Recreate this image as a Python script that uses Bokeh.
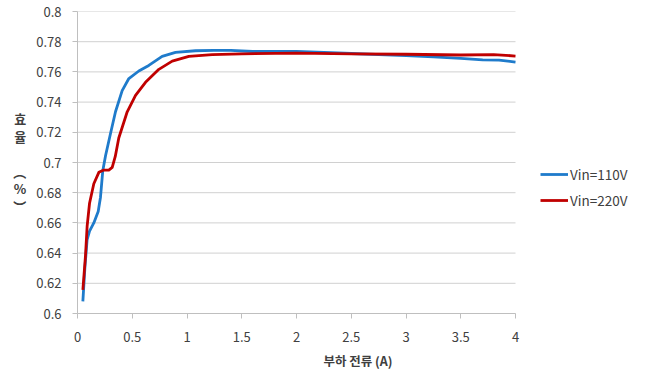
from bokeh.plotting import figure
from bokeh.models import Legend, LegendItem, FixedTicker
from bokeh.embed import file_html
from bokeh.resources import INLINE

# Data
x_110 = [0.049, 0.067, 0.088, 0.11, 0.149, 0.189, 0.21, 0.231, 0.256, 0.301, 0.347, 0.408, 0.469,
         0.56, 0.651, 0.773, 0.895, 1.078, 1.245, 1.4, 1.6, 2.0, 2.5, 3.0, 3.25, 3.5, 3.7, 3.85, 4.0]
y_110 = [0.608, 0.6297, 0.649, 0.6545, 0.66, 0.6675, 0.677, 0.6946, 0.7045, 0.719, 0.7336, 0.7476, 0.7556,
         0.7606, 0.7643, 0.7703, 0.7729, 0.774, 0.7742, 0.7743, 0.7735, 0.7735, 0.7722, 0.7708, 0.770,
         0.769, 0.768, 0.7678, 0.7665]

x_220 = [0.049, 0.073, 0.088, 0.11, 0.149, 0.195, 0.24, 0.286, 0.317, 0.345, 0.377, 0.454, 0.53,
         0.621, 0.743, 0.865, 1.017, 1.23, 1.5, 2.0, 2.5, 3.0, 3.5, 3.8, 4.0]
y_220 = [0.6156, 0.6383, 0.6578, 0.673, 0.6859, 0.6935, 0.695, 0.695, 0.6968, 0.704, 0.7162, 0.7336, 0.7444,
         0.7531, 0.7617, 0.7671, 0.7703, 0.7714, 0.772, 0.7725, 0.772, 0.7717, 0.7712, 0.7715, 0.7705]

series_names = ["Vin=110V", "Vin=220V"]
x_ticks = [0, 0.5, 1, 1.5, 2, 2.5, 3, 3.5, 4]
x_tick_labels = ["0", "0.5", "1", "1.5", "2", "2.5", "3", "3.5", "4"]
y_ticks = [0.6, 0.62, 0.64, 0.66, 0.68, 0.7, 0.72, 0.74, 0.76, 0.78, 0.8]
y_tick_labels = ["0.6", "0.62", "0.64", "0.66", "0.68", "0.7", "0.72", "0.74", "0.76", "0.78", "0.8"]
x_title = "부하 전류 (A)"
y_title = "효\n율\n\n︵\n%\n︶"

FONT = "Noto Sans CJK KR"
TXT = "#404040"

X_MIN, X_MAX = 0, 4
# frame extends past x=4 so that the legend (drawn inside the frame) is not clipped
X_VIEW_MAX = X_MAX * (638 - 77) / (515 - 77)

p = figure(width=638, height=372, output_backend="svg", toolbar_location=None,
           x_range=(X_MIN, X_VIEW_MAX), y_range=(0.6, 0.8),
           min_border_left=77, min_border_right=0, min_border_top=11, min_border_bottom=53)
p.outline_line_color = None
p.background_fill_color = "white"

# horizontal gridlines limited to the data area
p.xgrid.grid_line_color = None
p.ygrid.grid_line_color = None
p.segment(x0=[X_MIN] * len(y_ticks), x1=[X_MAX] * len(y_ticks), y0=y_ticks, y1=y_ticks,
          line_color="#D0D0D0", line_width=1)

c110 = "#1F7BCB"
c220 = "#C00000"
r1 = p.line(x_110, y_110, line_color=c110, line_width=2.8, line_join="round")
r2 = p.line(x_220, y_220, line_color=c220, line_width=2.8, line_join="round")

# axes
for ax in (p.xaxis[0], p.yaxis[0]):
    ax.axis_line_color = "#BFBFBF"
    ax.major_tick_line_color = "#BFBFBF"
    ax.major_tick_out = 5
    ax.major_tick_in = 0
    ax.minor_tick_line_color = None
    ax.major_label_text_font = FONT
    ax.major_label_text_font_size = "13px"
    ax.major_label_text_color = TXT

p.xaxis.bounds = (X_MIN, X_MAX)
p.xaxis.ticker = FixedTicker(ticks=x_ticks)
p.xaxis.major_label_overrides = {t: l for t, l in zip(x_ticks, x_tick_labels)}
p.yaxis.ticker = FixedTicker(ticks=y_ticks)
p.yaxis.major_label_overrides = {t: l for t, l in zip(y_ticks, y_tick_labels)}
p.xaxis.major_label_standoff = 13
p.yaxis.major_label_standoff = 11

p.xaxis.axis_label = x_title
p.xaxis.axis_label_text_font = FONT
p.xaxis.axis_label_text_font_style = "bold"
p.xaxis.axis_label_text_font_size = "12.5px"
p.xaxis.axis_label_text_color = TXT
p.xaxis.axis_label_standoff = 6

p.yaxis.axis_label = y_title
p.yaxis.axis_label_orientation = "horizontal"
p.yaxis.axis_label_text_font = FONT
p.yaxis.axis_label_text_font_style = "bold"
p.yaxis.axis_label_text_font_size = "13px"
p.yaxis.axis_label_text_line_height = 0.92
p.yaxis.axis_label_text_color = TXT
p.yaxis.axis_label_standoff = 7

legend = Legend(items=[LegendItem(label=series_names[0], renderers=[r1]),
                       LegendItem(label=series_names[1], renderers=[r2])],
                location=(463, 103), orientation="vertical",
                glyph_width=28, glyph_height=20, spacing=6, label_standoff=2,
                padding=0, margin=0, border_line_alpha=0, background_fill_alpha=0,
                label_text_font=FONT, label_text_font_size="13.5px", label_text_color=TXT)
p.add_layout(legend)

open("out.html", "w").write(file_html(p, INLINE))
